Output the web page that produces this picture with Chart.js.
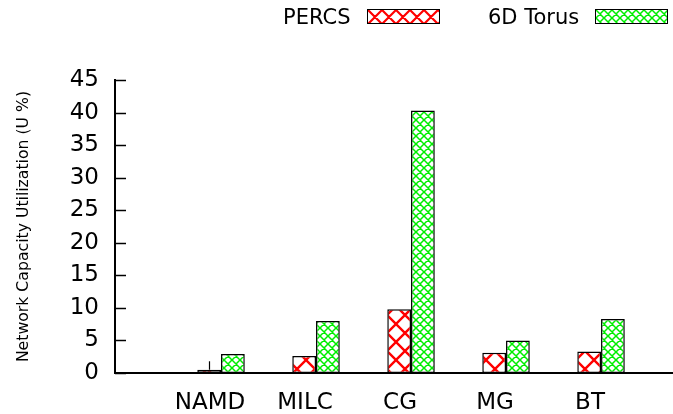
<!DOCTYPE html>
<html>
<head>
<meta charset="utf-8">
<script src="https://cdn.jsdelivr.net/npm/chart.js@4/dist/chart.umd.min.js"></script>
<style>
  html, body { margin: 0; padding: 0; background: #fff; }
  #wrap { position: relative; width: 673px; height: 414px; }
  #legend { position: absolute; top: 0; left: 0; width: 673px; height: 40px; font-family: "DejaVu Sans", sans-serif; font-size: 21px; color: #000; }
  .lg-text { position: absolute; top: 5px; line-height: 24px; white-space: nowrap; }
  .lg-box { position: absolute; top: 9px; height: 13px; border: 1.5px solid #000; }
</style>
</head>
<body>
<div id="wrap">
  <canvas id="c" width="673" height="414"></canvas>
  <div id="legend"></div>
</div>
<script>
// ---- data ----
const categories = ['NAMD', 'MILC', 'CG', 'MG', 'BT'];
const seriesNames = ['PERCS', '6D Torus'];
const percsValues = [0.5, 2.6, 9.8, 3.1, 3.3];
const torusValues = [2.9, 8.0, 40.3, 5.0, 8.3];
const percsErrTop = [1.8, null, null, null, null];
const yTickValues = [0, 5, 10, 15, 20, 25, 30, 35, 40, 45];
const yTitle = 'Network Capacity Utilization (U %)';

// ---- patterns ----
function makePatternCanvas(size, color, lw) {
  const c = document.createElement('canvas');
  c.width = size; c.height = size;
  const g = c.getContext('2d');
  g.fillStyle = '#fff';
  g.fillRect(0, 0, size, size);
  g.strokeStyle = color;
  g.lineWidth = lw;
  g.beginPath();
  for (let k = -1; k <= 1; k++) {
    g.moveTo(k * size, 0); g.lineTo(k * size + size, size);
    g.moveTo(k * size + size, 0); g.lineTo(k * size, size);
  }
  g.stroke();
  return c;
}
const redPat = makePatternCanvas(18, '#ff0000', 2.4);
const greenPat = makePatternCanvas(8, '#00ee00', 1.5);
const legendRedPat = makePatternCanvas(14, '#ff0000', 2.2);
const ctx = document.getElementById('c').getContext('2d');
const redFill = ctx.createPattern(redPat, 'repeat');
const greenFill = ctx.createPattern(greenPat, 'repeat');

// ---- legend (HTML text) ----
const legend = document.getElementById('legend');
const legendItems = [
  { name: seriesNames[0], pat: legendRedPat, textRight: 350, boxLeft: 367 },
  { name: seriesNames[1], pat: greenPat, textRight: 579, boxLeft: 595 }
];
legendItems.forEach(it => {
  const t = document.createElement('span');
  t.className = 'lg-text';
  t.textContent = it.name;
  legend.appendChild(t);
  t.style.left = (it.textRight - t.offsetWidth) + 'px';
  const b = document.createElement('span');
  b.className = 'lg-box';
  b.style.left = it.boxLeft + 'px';
  b.style.width = '71px';
  b.style.backgroundImage = 'url(' + it.pat.toDataURL() + ')';
  legend.appendChild(b);
});

// ---- plugins ----
const inwardTicks = {
  id: 'inwardTicks',
  afterDraw(chart) {
    const y = chart.scales.y, a = chart.chartArea, g = chart.ctx;
    g.save();
    g.strokeStyle = '#000';
    g.lineWidth = 1.5;
    yTickValues.forEach(v => {
      const py = Math.round(y.getPixelForValue(v)) + 0.5;
      g.beginPath();
      g.moveTo(a.left, py);
      g.lineTo(a.left + 11, py);
      g.stroke();
    });
    g.restore();
  }
};
const errorBars = {
  id: 'errorBars',
  afterDatasetsDraw(chart) {
    const meta = chart.getDatasetMeta(0), y = chart.scales.y, g = chart.ctx;
    g.save();
    g.strokeStyle = '#000';
    g.lineWidth = 1.2;
    percsErrTop.forEach((e, i) => {
      if (e == null) return;
      const bar = meta.data[i];
      const x = Math.round(bar.x) + 0.5;
      g.beginPath();
      g.moveTo(x, y.getPixelForValue(percsValues[i]));
      g.lineTo(x, y.getPixelForValue(e));
      g.stroke();
    });
    g.restore();
  }
};

const font = { family: '"DejaVu Sans", sans-serif', size: 23 };

new Chart(ctx, {
  type: 'bar',
  data: {
    datasets: [
      {
        label: seriesNames[0],
        data: percsValues.map((v, i) => ({ x: i, y: v })),
        backgroundColor: redFill,
        borderColor: '#000',
        borderWidth: 1.5,
        borderSkipped: false,
        categoryPercentage: 0.5,
        barPercentage: 1.0
      },
      {
        label: seriesNames[1],
        data: torusValues.map((v, i) => ({ x: i, y: v })),
        backgroundColor: greenFill,
        borderColor: '#000',
        borderWidth: 1.5,
        borderSkipped: false,
        categoryPercentage: 0.5,
        barPercentage: 1.0
      }
    ]
  },
  options: {
    responsive: false,
    animation: false,
    events: [],
    layout: { padding: { top: 80, right: 1, left: 0, bottom: 0 } },
    plugins: { legend: { display: false }, tooltip: { enabled: false } },
    scales: {
      x: {
        type: 'linear',
        offset: false,
        min: -1.116,
        max: 4.747,
        grid: { display: false, drawTicks: false, offset: false },
        border: { display: true, color: '#000', width: 2 },
        afterBuildTicks: s => { s.ticks = categories.map((c, i) => ({ value: i })); },
        afterFit: s => { s.height = 41; },
        ticks: {
          autoSkip: false,
          maxRotation: 0,
          padding: 16,
          labelOffset: -11,
          color: '#000',
          font: font,
          callback: v => categories[v]
        }
      },
      y: {
        min: 0,
        max: 45,
        grid: { display: false, drawTicks: false },
        border: { display: true, color: '#000', width: 2 },
        afterBuildTicks: s => { s.ticks = yTickValues.map(v => ({ value: v })); },
        afterFit: s => { s.width = 115; },
        ticks: { padding: 16, color: '#000', font: font },
        title: {
          display: true,
          text: yTitle,
          color: '#000',
          font: { family: '"DejaVu Sans", sans-serif', size: 15.7 },
          padding: { top: 15, bottom: 0 }
        }
      }
    }
  },
  plugins: [inwardTicks, errorBars]
});
</script>
</body>
</html>
